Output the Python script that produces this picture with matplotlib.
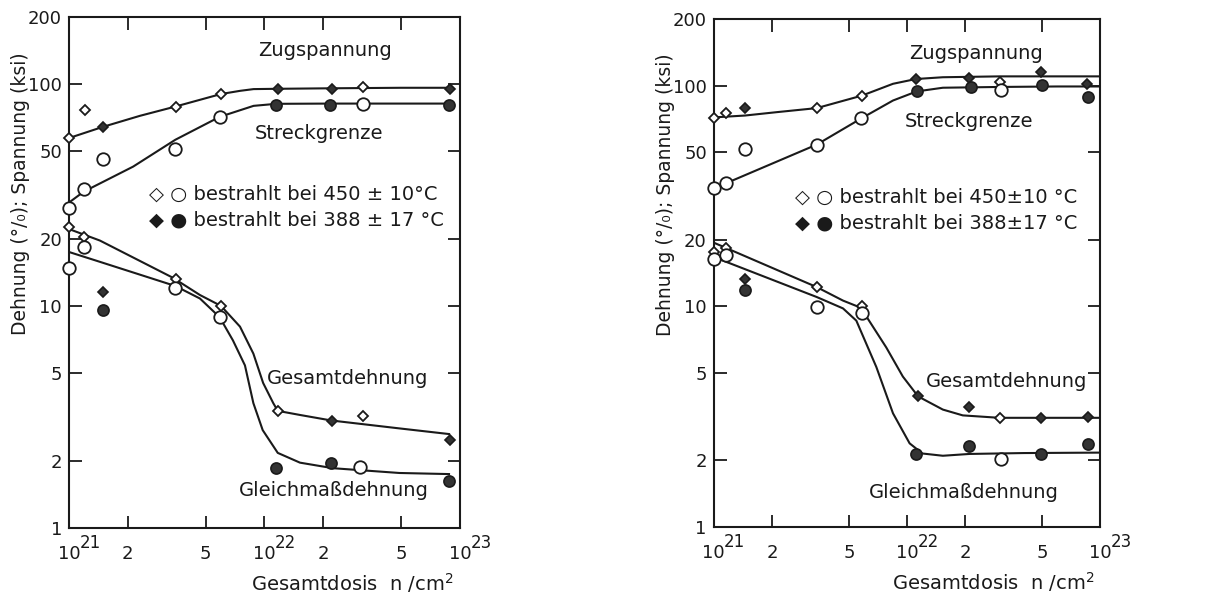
import numpy as np
import matplotlib
matplotlib.use("Agg")
from matplotlib import pyplot as plt
from matplotlib.ticker import FixedLocator, FixedFormatter, NullLocator

plt.rcParams['font.family'] = ['DejaVu Sans']
plt.rcParams['mathtext.fontset'] = 'dejavusans'

# dose values in units of 1e21 n/cm2
# ---- left panel ----
L_zug_open_x = [1.0, 1.21, 3.53, 6.0, 31.9]
L_zug_open_y = [57, 76, 79, 90, 97]
L_zug_fill_x = [1.49, 11.7, 22.1, 89]
L_zug_fill_y = [64, 95, 95, 95]
L_streck_open_x = [1.0, 1.19, 1.49, 3.48, 5.9, 31.9]
L_streck_open_y = [27.6, 33.7, 46, 51, 71, 81]
L_streck_fill_x = [11.5, 21.6, 88]
L_streck_fill_y = [80, 80.5, 80.5]
L_gesamt_open_x = [1.0, 1.2, 3.53, 6.0, 11.7, 31.9]
L_gesamt_open_y = [22.7, 20.5, 13.2, 10.0, 3.37, 3.2]
L_gesamt_fill_x = [1.49, 22.1, 89]
L_gesamt_fill_y = [11.5, 3.04, 2.49]
L_gleich_open_x = [1.0, 1.2, 3.5, 5.9, 31]
L_gleich_open_y = [14.8, 18.4, 12.1, 8.9, 1.88]
L_gleich_fill_x = [1.49, 11.5, 21.8, 88]
L_gleich_fill_y = [9.6, 1.86, 1.97, 1.63]

L_zug_line_x = [1.0, 1.49, 2.31, 3.5, 6.0, 7.5, 8.8, 11.7, 22, 50, 89]
L_zug_line_y = [57, 64, 71.8, 79, 90, 93, 94.7, 95, 95.5, 96, 96]
L_streck_line_x = [1.0, 1.19, 2.13, 3.5, 5.9, 8.8, 11.5, 22, 50, 89]
L_streck_line_y = [29.2, 32.7, 42.4, 56, 71, 79.6, 81.3, 81.5, 81.5, 81.5]
L_gesamt_line_x = [1.0, 1.44, 3.4, 4.68, 6.0, 7.5, 8.78, 9.85, 11.1, 11.7, 15.2, 22, 49, 88]
L_gesamt_line_y = [22.2, 19.7, 13.4, 11.2, 10.0, 8.07, 6.1, 4.5, 3.65, 3.37, 3.23, 3.05, 2.81, 2.65]
L_gleich_line_x = [1.0, 1.44, 3.5, 4.68, 5.9, 6.9, 7.95, 8.78, 9.8, 11.7, 15.2, 22.4, 49, 88]
L_gleich_line_y = [17.5, 15.8, 12.3, 10.8, 8.9, 7.0, 5.4, 3.65, 2.76, 2.18, 1.97, 1.86, 1.77, 1.75]

# ---- right panel ----
R_zug_open_x = [1.0, 1.15, 3.41, 5.84, 30.3]
R_zug_open_y = [71.4, 75, 79, 90, 104]
R_zug_fill_x = [1.45, 11.1, 21, 49.4, 85.3]
R_zug_fill_y = [79, 107, 107.6, 115, 102]
R_streck_open_x = [1.0, 1.16, 1.45, 3.41, 5.8, 30.5]
R_streck_open_y = [34.3, 36.1, 51.3, 54, 71, 95]
R_streck_fill_x = [11.2, 21.5, 50, 86]
R_streck_fill_y = [94, 98, 100.7, 88.5]
R_gesamt_open_x = [1.0, 1.15, 3.41, 5.84, 30.3]
R_gesamt_open_y = [17.6, 18.4, 12.2, 10, 3.1]
R_gesamt_fill_x = [1.45, 11.4, 21, 49.4, 86.7]
R_gesamt_fill_y = [13.3, 3.92, 3.5, 3.12, 3.14]
R_gleich_open_x = [1.0, 1.16, 3.41, 5.84, 30.5]
R_gleich_open_y = [16.3, 17.0, 9.9, 9.3, 2.02]
R_gleich_fill_x = [1.45, 11.1, 21, 49.4, 86]
R_gleich_fill_y = [11.9, 2.15, 2.33, 2.14, 2.37]

R_zug_line_x = [1.0, 1.45, 2.11, 3.41, 5.84, 8.45, 11.1, 15.3, 30, 60, 100]
R_zug_line_y = [71.7, 73.1, 75.7, 79, 90, 101.8, 107, 109, 110, 110, 110]
R_streck_line_x = [1.0, 1.16, 3.41, 5.8, 8.45, 11.2, 15.3, 30, 60, 100]
R_streck_line_y = [34.3, 36.1, 54, 71, 85.5, 94, 97.7, 98.5, 99, 99]
R_gesamt_line_x = [1.0, 3.41, 4.66, 5.5, 6.0, 7.8, 9.5, 11.4, 15.3, 19.4, 30, 100]
R_gesamt_line_y = [19.4, 12.2, 10.6, 10.0, 9.3, 6.5, 4.8, 3.9, 3.4, 3.2, 3.12, 3.12]
R_gleich_line_x = [1.0, 3.41, 4.66, 5.46, 6.93, 8.45, 10.3, 12.0, 15.3, 21, 40, 100]
R_gleich_line_y = [16.7, 11.0, 9.77, 8.6, 5.3, 3.27, 2.39, 2.15, 2.1, 2.14, 2.16, 2.17]

x_ticks = [1, 2, 5, 10, 20, 50, 100]
x_labels = ['10', '2', '5', '10', '2', '5', '10']
x_exp = {1: '21', 10: '22', 100: '23'}
y_ticks = [1, 2, 5, 10, 20, 50, 100, 200]
y_labels = ['1', '2', '5', '10', '20', '50', '100', '200']

INK = '#1a1a1a'
FS = 14


def e21(v):
    return np.array(v) * 1e21


def panel(ax, d, legend_txt, labels_pos):
    for key in ['zug', 'streck', 'gesamt', 'gleich']:
        ax.plot(e21(d[key + '_line_x']), d[key + '_line_y'], color=INK, lw=1.5, zorder=2)
    for key in ['zug', 'streck', 'gesamt', 'gleich']:
        circ = key in ('streck', 'gleich')
        m = 'o' if circ else 'D'
        ms_o = 9 if circ else 5.5
        ms_f = 8 if circ else 5.5
        ax.plot(e21(d[key + '_open_x']), d[key + '_open_y'], m, ms=ms_o, mfc='white',
                mec=INK, mew=1.3, ls='none', zorder=3, clip_on=False)
        ax.plot(e21(d[key + '_fill_x']), d[key + '_fill_y'], m, ms=ms_f, mfc='#333333',
                mec=INK, mew=1.2, ls='none', zorder=3, clip_on=False)

    ax.set_xscale('log')
    ax.set_yscale('log')
    ax.set_xlim(1e21, 1e23)
    ax.set_ylim(1, 200)
    ax.xaxis.set_major_locator(FixedLocator(e21(x_ticks)))
    ax.xaxis.set_major_formatter(FixedFormatter(x_labels))
    ax.yaxis.set_major_locator(FixedLocator(y_ticks))
    ax.yaxis.set_major_formatter(FixedFormatter(y_labels))
    ax.xaxis.set_minor_locator(NullLocator())
    ax.yaxis.set_minor_locator(NullLocator())
    ax.tick_params(direction='in', length=9, width=1.3, top=True, right=True,
                   labelsize=FS - 1, colors=INK)
    ax.tick_params(axis='x', pad=12)
    ax.tick_params(axis='y', pad=5)
    for s in ax.spines.values():
        s.set_linewidth(1.5)
        s.set_color(INK)

    # exponents of the decade tick labels
    for t, ex in x_exp.items():
        ax.annotate(ex, xy=(t * 1e21, 0), xycoords=('data', 'axes fraction'),
                    xytext=(7.5, -11), textcoords='offset points', ha='left', va='center',
                    fontsize=FS - 2, color=INK)

    for txt, (x, y) in labels_pos.items():
        ax.text(x * 1e21, y, txt, ha='center', va='center', fontsize=FS, color=INK)

    lx, ly1, ly2 = legend_txt[2]
    ax.text(lx, ly1, legend_txt[0], transform=ax.transAxes, ha='left', va='center',
            fontsize=FS, color=INK)
    ax.text(lx, ly2, legend_txt[1], transform=ax.transAxes, ha='left', va='center',
            fontsize=FS, color=INK)

    ax.text(0.985, -0.108, 'Gesamtdosis  n /cm$^{2}$', transform=ax.transAxes,
            ha='right', va='center', fontsize=FS, color=INK)
    ax.text(-0.125, 0.655, 'Dehnung (°/₀); Spannung (ksi)', transform=ax.transAxes,
            rotation=90, ha='center', va='center', fontsize=FS - 0.5, color=INK)


def collect(prefix):
    g = globals()
    d = {}
    for key in ['zug', 'streck', 'gesamt', 'gleich']:
        for part in ['open_x', 'open_y', 'fill_x', 'fill_y', 'line_x', 'line_y']:
            d[key + '_' + part] = g[prefix + key + '_' + part]
    return d


fig = plt.figure(figsize=(12.16, 5.96), dpi=100)
ax1 = fig.add_axes([0.0567, 0.114, 0.3215, 0.8575])
ax2 = fig.add_axes([0.587, 0.116, 0.318, 0.852])

panel(ax1, collect('L_'),
      ('◇ ○ bestrahlt bei 450 ± 10°C', '◆ ● bestrahlt bei 388 ± 17 °C', (0.205, 0.654, 0.603)),
      {'Zugspannung': (20.4, 141), 'Streckgrenze': (19, 59.5),
       'Gesamtdehnung': (26.7, 4.69), 'Gleichmaßdehnung': (22.7, 1.47)})
panel(ax2, collect('R_'),
      ('◇ ○ bestrahlt bei 450±10 °C', '◆ ● bestrahlt bei 388±17 °C', (0.21, 0.650, 0.598)),
      {'Zugspannung': (22.8, 140), 'Streckgrenze': (20.8, 68.9),
       'Gesamtdehnung': (32.7, 4.54), 'Gleichmaßdehnung': (19.6, 1.43)})

fig.savefig('out.png', dpi=100)
